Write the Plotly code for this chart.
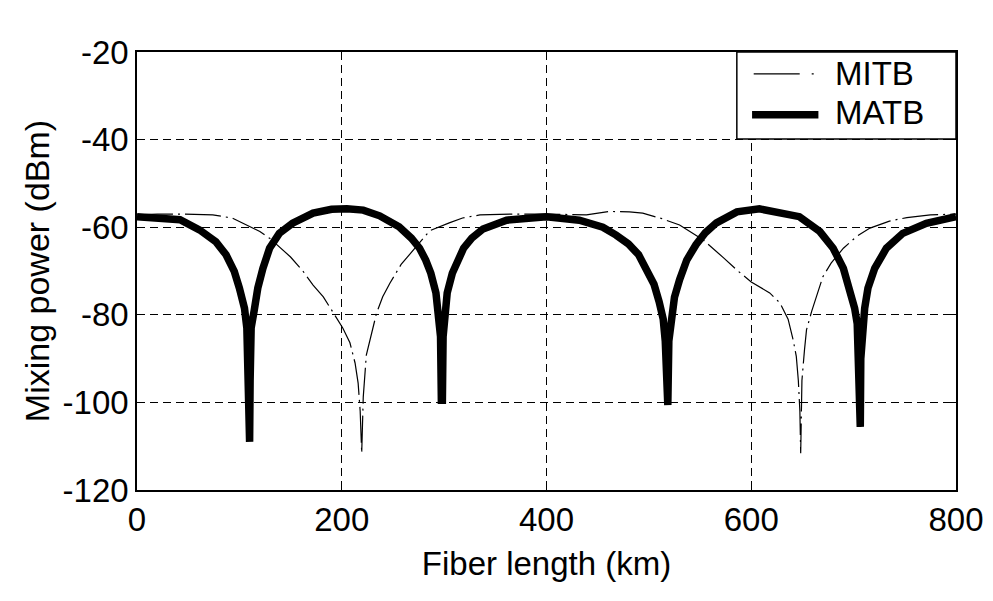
import plotly.graph_objects as go

# Fiber length (km) / mixing power (dBm)
matb_km = [0, 20, 42, 61, 77, 87, 95, 100, 105, 107.3, 108.5, 109, 110, 110.5, 111.5, 114.5, 118, 123,
           129.5, 139, 152, 172, 190, 205, 221, 237, 256, 268, 276, 282, 287, 292, 295, 296.5, 297.3,
           298.3, 299, 300.5, 303, 308, 313, 319, 327, 338, 361, 400, 432, 455, 468, 480, 490, 498,
           505, 510, 514, 516, 517, 518.5, 519.5, 521.5, 525, 530, 537, 546, 555, 566, 586, 608, 634,
           647, 667, 680, 690, 696, 701, 703.5, 704.7, 705.3, 706.5, 707, 708.5, 710.8, 714, 720.6,
           732, 748, 771, 797, 800]
matb_dbm = [-57.6, -57.8, -58.3, -60.6, -63.3, -66.3, -70.1, -73.9, -78.5, -83.0, -95.0, -109.0, -109.0,
            -95.0, -83.0, -79.0, -73.9, -69.4, -64.8, -61.4, -59.1, -56.8, -55.9, -55.8, -56.1, -57.4,
            -59.9, -62.5, -64.8, -67.5, -70.5, -75.0, -80.0, -85.0, -99.5, -99.5, -85.0, -80.0, -75.0,
            -70.5, -67.5, -64.8, -62.5, -60.4, -58.4, -57.6, -58.4, -60.0, -61.8, -63.8, -66.3, -69.5,
            -73.0, -77.0, -81.0, -86.0, -100.6, -100.6, -86.0, -81.0, -76.0, -72.0, -67.5, -64.0, -61.3,
            -59.0, -56.5, -55.8, -56.8, -57.6, -61.0, -64.8, -69.4, -73.9, -78.5, -82.0, -90.0, -105.6,
            -105.6, -90.0, -82.0, -78.5, -73.9, -69.4, -64.8, -61.4, -59.1, -57.8, -57.6]

mitb_km = [0, 20, 42, 74, 93, 110, 120, 130, 150, 162, 172, 182, 192, 201, 208, 213, 216, 218, 219.5,
           221, 224, 228, 234, 240, 247, 258, 270, 286, 305, 318, 335, 367, 400, 439, 462, 481, 494,
           512, 530, 553, 573, 586, 600, 618, 628, 636, 641, 644, 646, 647.5, 648.3, 649.5, 652, 654,
           659, 670, 678, 690, 703, 716, 735, 752, 775, 800]
mitb_dbm = [-57.2, -57.0, -57.0, -57.2, -57.9, -59.8, -61.0, -62.6, -66.8, -70.0, -73.2, -75.9, -79.5, -83.0,
            -86.4, -91.0, -95.6, -102.0, -111.6, -98.8, -89.2, -85.3, -79.6, -75.9, -72.8, -68.5, -65.2,
            -60.8, -59.0, -57.9, -57.2, -57.0, -57.0, -57.2, -56.4, -56.5, -56.8, -58.0, -59.5, -62.9,
            -67.0, -69.8, -72.5, -75.0, -77.3, -81.0, -85.8, -89.5, -95.0, -102.0, -111.6, -95.0, -88.0,
            -83.4, -79.2, -71.3, -68.2, -64.8, -62.1, -60.2, -58.6, -57.8, -57.2, -57.0]

x_ticks = [0, 200, 400, 600, 800]
y_ticks = [-120, -100, -80, -60, -40, -20]

FONT = "Liberation Sans, Arial, sans-serif"

fig = go.Figure()
fig.add_trace(go.Scatter(x=mitb_km, y=mitb_dbm, mode="lines", name="MITB",
                         line=dict(color="black", width=1.2, dash="36px,5px,2px,5px")))
fig.add_trace(go.Scatter(x=matb_km, y=matb_dbm, mode="lines", name="MATB",
                         line=dict(color="black", width=7.5)))

axis_style = dict(
    showline=True, linecolor="black", linewidth=1.5, mirror="ticks",
    ticks="inside", ticklen=6, tickcolor="black",
    showgrid=True, gridcolor="black", gridwidth=1, griddash="8px,5px",
    zeroline=False, tickfont=dict(size=33, color="black", family=FONT),
)

fig.update_xaxes(range=[0, 800], tickvals=x_ticks, ticktext=[str(v) for v in x_ticks],
                 title=dict(text="Fiber length (km)", font=dict(size=33, color="black", family=FONT),
                            standoff=15),
                 **axis_style)
fig.update_yaxes(range=[-120, -20], tickvals=y_ticks, ticktext=[str(v) for v in y_ticks],
                 title=dict(text="Mixing power (dBm)", font=dict(size=34, color="black", family=FONT),
                            standoff=3),
                 **axis_style)

# MATLAB-style legend box in the top right corner
fig.add_shape(type="rect", xref="paper", yref="paper", x0=0.7324, x1=1, y0=0.8014, y1=1,
              line=dict(color="black", width=1.5), fillcolor="white", layer="above")
fig.add_shape(type="line", xref="paper", yref="paper", x0=0.753, x1=0.83, y0=0.95, y1=0.95,
              line=dict(color="black", width=1.2, dash="46px,12px,2px"), layer="above")
fig.add_shape(type="line", xref="paper", yref="paper", x0=0.751, x1=0.832, y0=0.857, y1=0.857,
              line=dict(color="black", width=7.5), layer="above")
for label, ypos in [("MITB", 0.952), ("MATB", 0.862)]:
    fig.add_annotation(text=label, xref="paper", yref="paper", x=0.85, y=ypos,
                       xanchor="left", yanchor="middle", showarrow=False,
                       font=dict(size=33, color="black", family=FONT))

fig.update_layout(
    width=993, height=601,
    margin=dict(l=129, r=45, t=44, b=119),
    plot_bgcolor="white", paper_bgcolor="white",
    showlegend=False,
    font=dict(family=FONT, color="black"),
)

fig.write_html("out.html")
